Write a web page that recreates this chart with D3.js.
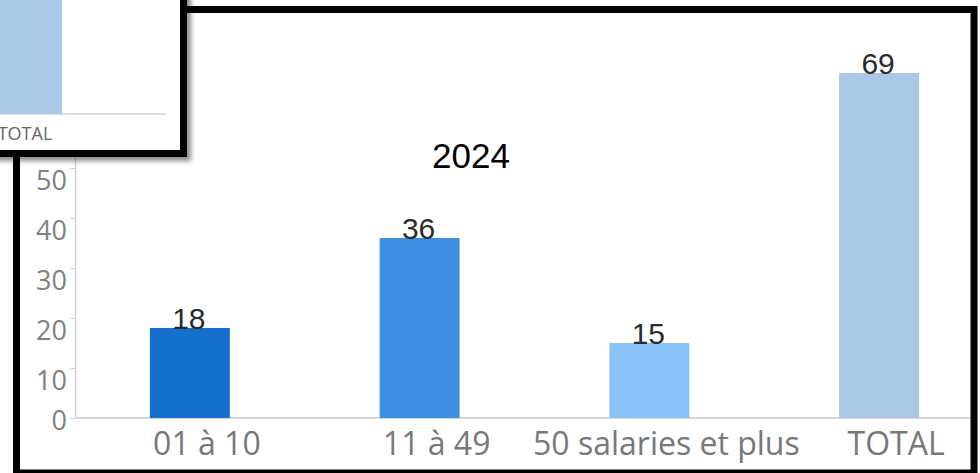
<!DOCTYPE html>
<html>
<head>
<meta charset="utf-8">
<script src="https://cdn.jsdelivr.net/npm/d3@7"></script>
<style>
  body { margin: 0; background: #fff; }
  svg { display: block; }
</style>
</head>
<body>
<svg width="980" height="473"></svg>
<script>
// chart data
var categories = ["01 à 10", "11 à 49", "50 salaries et plus", "TOTAL"];
var values = [18, 36, 15, 69];
var barColors = ["#1470cc", "#3d8fe2", "#8ac3fa", "#aac9e6"];
var yTicks = [0, 10, 20, 30, 40, 50];
var title = "2024";

var svg = d3.select("svg"),
    width = +svg.attr("width"),
    height = +svg.attr("height");

var defs = svg.append("defs");
defs.append("clipPath").attr("id", "mainclip")
  .append("rect").attr("x", 20).attr("y", 13).attr("width", 951).attr("height", 457);
defs.append("clipPath").attr("id", "insetclip")
  .append("rect").attr("x", 0).attr("y", 0).attr("width", 180).attr("height", 150);
var shadow = defs.append("filter").attr("id", "shadow")
  .attr("x", "-20%").attr("y", "-20%").attr("width", "140%").attr("height", "140%");
shadow.append("feDropShadow")
  .attr("dx", 4).attr("dy", 4).attr("stdDeviation", 2.5)
  .attr("flood-color", "#000").attr("flood-opacity", 0.45);

// main chart scales
var x = d3.scaleBand()
  .domain(categories)
  .range([75, 994])
  .paddingInner(0.652)
  .paddingOuter(0.326);

var y = d3.scaleLinear()
  .domain([0, 80])
  .range([418, 18]);

var main = svg.append("g").attr("clip-path", "url(#mainclip)");

// y axis
var yAxis = d3.axisLeft(y)
  .tickValues(yTicks)
  .tickSize(5)
  .tickSizeOuter(0)
  .tickPadding(3);

var ya = main.append("g")
  .attr("transform", "translate(75,0)")
  .call(yAxis);
ya.select(".domain").attr("stroke", "#d2d2d2").attr("stroke-width", 1.5);
ya.selectAll(".tick line").attr("stroke", "#d2d2d2");
ya.selectAll(".tick text")
  .attr("fill", "#808080")
  .style("font-family", "'Open Sans'")
  .style("font-size", "27px")
  .attr("dy", d => d === 0 ? "0.43em" : "0.78em");

// x axis line
main.append("line")
  .attr("x1", 75).attr("x2", 971)
  .attr("y1", y(0)).attr("y2", y(0))
  .attr("stroke", "#d6d6d6").attr("stroke-width", 2);

// bars
main.selectAll("rect.bar")
  .data(values)
  .enter()
  .append("rect")
  .attr("class", "bar")
  .attr("x", (d, i) => x(categories[i]))
  .attr("width", x.bandwidth())
  .attr("y", d => y(d))
  .attr("height", d => y(0) - y(d))
  .attr("fill", (d, i) => barColors[i]);

// value labels
main.selectAll("text.val")
  .data(values)
  .enter()
  .append("text")
  .attr("class", "val")
  .attr("x", (d, i) => x(categories[i]) + x.bandwidth() / 2 - 1)
  .attr("y", d => y(d) + 1)
  .attr("text-anchor", "middle")
  .attr("fill", "#2b2b2b")
  .style("font-family", "'Liberation Sans', Arial, sans-serif")
  .style("font-size", "30px")
  .text(d => d);

// category labels
main.selectAll("text.cat")
  .data(categories)
  .enter()
  .append("text")
  .attr("class", "cat")
  .attr("x", d => x(d) + x.bandwidth() / 2 + 17)
  .attr("y", 455)
  .attr("text-anchor", "middle")
  .attr("fill", "#787878")
  .style("font-family", "'Open Sans'")
  .style("font-size", "32px")
  .text(d => d);

// title
main.append("text")
  .attr("x", 471)
  .attr("y", 168)
  .attr("text-anchor", "middle")
  .attr("fill", "#000")
  .style("font-family", "'Liberation Sans', Arial, sans-serif")
  .style("font-size", "35px")
  .text(title);

// main frame
svg.append("rect")
  .attr("x", 16.5).attr("y", 9.5)
  .attr("width", 957.5).attr("height", 463.5)
  .attr("fill", "none")
  .attr("stroke", "#000")
  .attr("stroke-width", 7);

// inset (cropped copy of the chart's right end)
var inset = svg.append("g");
inset.append("rect")
  .attr("x", -10).attr("y", -10)
  .attr("width", 193.5).attr("height", 163.5)
  .attr("fill", "#fff")
  .attr("stroke", "#000")
  .attr("stroke-width", 7)
  .attr("filter", "url(#shadow)");

var ix = d3.scaleBand()
  .domain(categories)
  .range([-592, 120])
  .paddingInner(0.652)
  .paddingOuter(0.326);

var iy = d3.scaleLinear()
  .domain([0, 80])
  .range([114, -46]);

// only the categories whose bar reaches into the inset window
var insetIdx = d3.range(categories.length)
  .filter(i => ix(categories[i]) + ix.bandwidth() > 0);

var ig = inset.append("g").attr("clip-path", "url(#insetclip)");

ig.append("line")
  .attr("x1", 0).attr("x2", 166)
  .attr("y1", iy(0)).attr("y2", iy(0))
  .attr("stroke", "#bdbdbd").attr("stroke-width", 1);

ig.selectAll("rect")
  .data(insetIdx)
  .enter()
  .append("rect")
  .attr("x", i => ix(categories[i]))
  .attr("width", ix.bandwidth())
  .attr("y", i => iy(values[i]))
  .attr("height", i => iy(0) - iy(values[i]))
  .attr("fill", i => barColors[i]);

ig.selectAll("text")
  .data(insetIdx)
  .enter()
  .append("text")
  .attr("x", i => ix(categories[i]) + ix.bandwidth() / 2 - 6)
  .attr("y", 140)
  .attr("text-anchor", "middle")
  .attr("fill", "#666")
  .style("font-family", "'Open Sans'")
  .style("font-size", "18px")
  .text(i => categories[i]);
</script>
</body>
</html>
